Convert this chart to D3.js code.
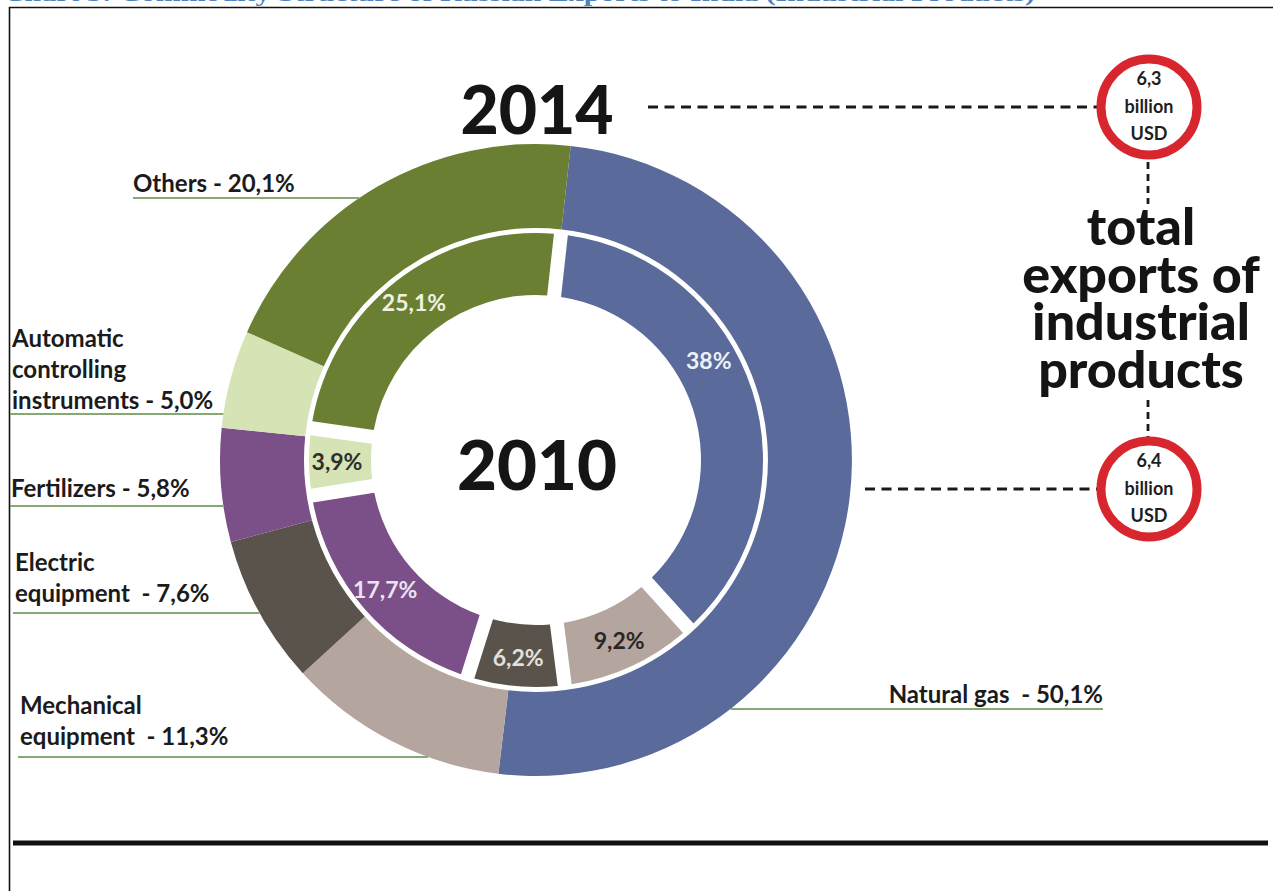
<!DOCTYPE html>
<html>
<head>
<meta charset="utf-8">
<script src="https://cdn.jsdelivr.net/npm/d3@7"></script>
<style>
  html, body { margin: 0; padding: 0; background: #fff; }
  svg { display: block; }
  text { white-space: pre; }
</style>
</head>
<body>
<svg id="chart" width="1273" height="891"></svg>
<script>
// Commodity structure of industrial exports, shares in per cent
const categories = [
  "Natural gas",
  "Mechanical\nequipment",
  "Electric\nequipment",
  "Fertilizers",
  "Automatic\ncontrolling\ninstruments",
  "Others"
];
const shares2014 = [50.1, 11.3, 7.6, 5.8, 5.0, 20.1];
const shares2010 = [38, 9.2, 6.2, 17.7, 3.9, 25.1];
const years = ["2014", "2010"];
const totalsBillionUSD = [6.3, 6.4];   // 2014, 2010
const sideTitle = ["total", "exports of", "industrial", "products"];
const chartTitle = "Chart 3: Commodity Structure of Russian Exports to India (Industrial Products)";

const colors = ["#5a6b9b", "#b4a69f", "#59534b", "#7b4f87", "#d5e3b5", "#6b7f33"];
const innerLabelColors = ["#eef0f7", "#2a2624", "#e4e1dc", "#ece2f0", "#2e2e2a", "#eef3e0"];

const ru = d3.formatLocale({ decimal: ",", thousands: " ", grouping: [3], currency: ["", ""] });
const fmtOuter = ru.format(".1f");
const fmtInner = ru.format(".1~f");

const svg = d3.select("#chart");
const W = 1273, H = 891;
const cx = 536, cy = 460;
const R_OUT = 316, R_OUT_IN = 232;
const R_IN = 227, R_IN_IN = 165;
const start = 6.3 * Math.PI / 180;
const FONT = "Lato, 'Open Sans', sans-serif";

// page frame and cut title
svg.append("text")
  .attr("x", 3).attr("y", 1)
  .attr("textLength", 1032).attr("lengthAdjust", "spacingAndGlyphs")
  .attr("font-family", "'Liberation Serif', 'Times New Roman', serif")
  .attr("font-weight", "bold").attr("font-size", 22)
  .attr("fill", "#4f81bd")
  .text(chartTitle);
svg.append("line").attr("x1", 9).attr("x2", W).attr("y1", 7.5).attr("y2", 7.5)
  .attr("stroke", "#111").attr("stroke-width", 1.6);
svg.append("line").attr("x1", 9.5).attr("x2", 9.5).attr("y1", 7).attr("y2", H)
  .attr("stroke", "#111").attr("stroke-width", 1.6);
svg.append("line").attr("x1", 13).attr("x2", 1268).attr("y1", 843).attr("y2", 843)
  .attr("stroke", "#111").attr("stroke-width", 5);

const g = svg.append("g").attr("transform", `translate(${cx},${cy})`);

// outer ring: 2014
const pieOuter = d3.pie().sort(null).value(d => d).startAngle(start).endAngle(start + 2 * Math.PI);
const arcOuter = d3.arc().innerRadius(R_OUT_IN).outerRadius(R_OUT);
g.selectAll("path.outer")
  .data(pieOuter(shares2014))
  .join("path")
  .attr("class", "outer")
  .attr("d", arcOuter)
  .attr("fill", (d, i) => colors[i]);

// inner ring: 2010, separated segments
const pieInner = d3.pie().sort(null).value(d => d)
  .startAngle(start).endAngle(start + 2 * Math.PI).padAngle(0.07);
const arcInner = d3.arc().innerRadius(R_IN_IN).outerRadius(R_IN).padRadius(200);
const innerArcs = pieInner(shares2010);
g.selectAll("path.inner")
  .data(innerArcs)
  .join("path")
  .attr("class", "inner")
  .attr("d", arcInner)
  .attr("fill", (d, i) => colors[i]);

// inner value labels
const labelAt = { 0: 0.41 };   // fraction along the arc; default is the middle
const rLabel = 199;
g.selectAll("text.inner")
  .data(innerArcs)
  .join("text")
  .attr("class", "inner")
  .attr("transform", (d, i) => {
    const f = labelAt[i] !== undefined ? labelAt[i] : 0.5;
    const a = d.startAngle + f * (d.endAngle - d.startAngle);
    return `translate(${rLabel * Math.sin(a)},${-rLabel * Math.cos(a)})`;
  })
  .attr("text-anchor", "middle")
  .attr("dy", "0.36em")
  .attr("font-family", FONT).attr("font-weight", "bold").attr("font-size", 23)
  .attr("fill", (d, i) => innerLabelColors[i])
  .text(d => fmtInner(d.data) + "%");

// year captions
svg.append("text").attr("x", 537).attr("y", 134).attr("text-anchor", "middle")
  .attr("font-family", FONT).attr("font-weight", 900).attr("font-size", 66)
  .attr("fill", "#151515").text(years[0]);
svg.append("text").attr("x", 537).attr("y", 490).attr("text-anchor", "middle")
  .attr("font-family", FONT).attr("font-weight", 900).attr("font-size", 69)
  .attr("fill", "#151515").text(years[1]);

// category labels with underlines running to the outer ring
const labelLayout = [
  { anchor: "end",   x: 1103, last: 703, uy: 709, ux: 1103, sep: "  - " },
  { anchor: "start", x: 20,   last: 745, uy: 757, ux: 18,   sep: "  - " },
  { anchor: "start", x: 15,   last: 602, uy: 613, ux: 13,   sep: "  - " },
  { anchor: "start", x: 11,   last: 497, uy: 506, ux: 10,   sep: " - " },
  { anchor: "start", x: 12,   last: 409, uy: 414, ux: 10,   sep: " - " },
  { anchor: "start", x: 133,  last: 192, uy: 198, ux: 133,  sep: " - " }
];
const lineH = 31;
const underline = svg.append("g").attr("stroke", "#86a872").attr("stroke-width", 2);
const labels = svg.append("g")
  .attr("font-family", FONT).attr("font-weight", "bold").attr("font-size", 24)
  .attr("fill", "#1b1b1b");

categories.forEach((name, i) => {
  const L = labelLayout[i];
  const lines = name.split("\n");
  lines[lines.length - 1] += L.sep + fmtOuter(shares2014[i]) + "%";
  const t = labels.append("text").attr("text-anchor", L.anchor);
  lines.forEach((ln, k) => {
    t.append("tspan").attr("x", L.x)
      .attr("y", L.last - (lines.length - 1 - k) * lineH)
      .text(ln);
  });
  const dy = L.uy - cy;
  const half = Math.sqrt(Math.max(0, R_OUT * R_OUT - dy * dy));
  const ringX = L.anchor === "end" ? cx + half : cx - half;
  underline.append("line")
    .attr("x1", Math.min(L.ux, ringX)).attr("x2", Math.max(L.ux, ringX))
    .attr("y1", L.uy).attr("y2", L.uy);
});

// totals on the right: dashed leaders and red rings
const bx = 1149;
const badgeY = [107, 489];
const leaderFrom = [648, 865];
const lead = svg.append("g").attr("stroke", "#1a1a1a").attr("stroke-width", 2.8).attr("fill", "none");
badgeY.forEach((y, i) => {
  lead.append("line").attr("x1", leaderFrom[i]).attr("x2", bx - 52).attr("y1", y).attr("y2", y)
    .attr("stroke-dasharray", "10,6.5");
});
lead.append("line").attr("x1", bx - 1).attr("x2", bx - 1).attr("y1", 162).attr("y2", 204)
  .attr("stroke-dasharray", "7,5");
lead.append("line").attr("x1", bx - 1).attr("x2", bx - 1).attr("y1", 400).attr("y2", 437)
  .attr("stroke-dasharray", "7,5");

const badges = svg.append("g").selectAll("g")
  .data(totalsBillionUSD)
  .join("g")
  .attr("transform", (d, i) => `translate(${bx},${badgeY[i]})`);
badges.append("circle").attr("r", 48).attr("fill", "#fff")
  .attr("stroke", "#d8262e").attr("stroke-width", 9);
badges.each(function (d) {
  const t = d3.select(this).append("text")
    .attr("text-anchor", "middle")
    .attr("font-family", FONT).attr("font-weight", "bold").attr("font-size", 18)
    .attr("fill", "#1e1e1e");
  [fmtOuter(d), "billion", "USD"].forEach((s, k) => {
    t.append("tspan").attr("x", 0).attr("y", -22 + k * 27.5).text(s);
  });
});

// side caption
const side = svg.append("text").attr("text-anchor", "middle")
  .attr("font-family", FONT).attr("font-weight", 900).attr("font-size", 52)
  .attr("fill", "#141414");
sideTitle.forEach((s, k) => {
  side.append("tspan").attr("x", 1141).attr("y", 245 + k * 47.5).text(s);
});
</script>
</body>
</html>
